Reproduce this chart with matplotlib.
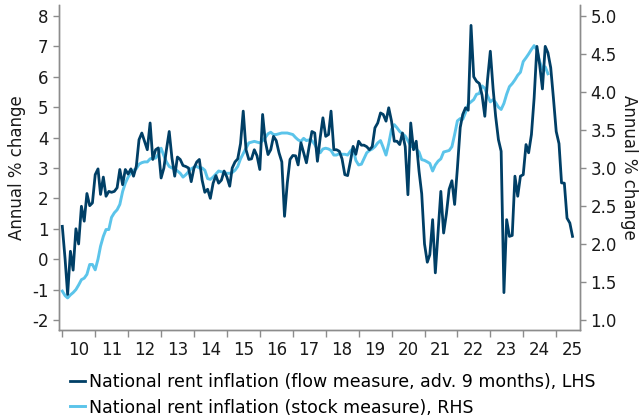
import numpy as np
import pandas as pd
import matplotlib
matplotlib.use('Agg')
import matplotlib.pyplot as plt
import matplotlib.dates as mdates

# flow measure (advanced 9 months), LHS, monthly from Jan 2010
flow = [1.08, 0.0, -1.16, 0.26, -0.36, 1.0, 0.5, 1.74, 1.25, 2.16, 1.76, 1.85,
        2.78, 2.97, 2.13, 2.7, 2.07, 2.23, 2.2, 2.23, 2.35, 2.95, 2.45, 2.95,
        2.8, 2.97, 2.73, 3.06, 3.93, 4.15, 3.88, 3.6, 4.48, 3.28, 3.6, 3.66,
        2.67, 3.0, 3.6, 4.2, 3.33, 2.73, 3.36, 3.28, 3.08, 3.05, 3.0, 2.55,
        3.0, 3.2, 3.28, 2.6, 2.2, 2.3, 2.0, 2.5, 2.75, 2.5, 2.6, 2.9,
        2.7, 2.4, 3.0, 3.2, 3.3, 3.8, 4.87, 3.6, 3.28, 3.3, 3.6, 3.4,
        2.95, 4.76, 3.9, 3.44, 3.6, 4.04, 3.9, 3.5, 3.2, 1.41, 2.51, 3.28,
        3.41, 3.4, 3.1, 3.83, 3.5, 3.17, 3.7, 4.2, 4.15, 3.22, 4.0, 4.65,
        4.04, 4.1, 4.87, 3.6, 3.6, 3.55, 3.3, 2.78, 2.75, 3.2, 3.71, 3.45,
        3.88, 3.75, 3.75, 3.7, 3.6, 3.7, 4.32, 4.48, 4.81, 4.76, 4.54, 4.98,
        4.54, 3.88, 3.88, 3.77, 4.15, 3.7, 2.12, 4.48, 3.6, 3.88, 2.9, 2.15,
        0.5, -0.1, 0.15, 1.3, -0.45, 0.9, 2.23, 0.86, 1.5, 2.3, 2.58, 1.8,
        3.0, 4.33, 4.76, 4.98, 4.9, 7.69, 6.0, 5.85, 5.78, 5.4, 4.7, 5.9,
        6.84, 5.6, 4.7, 3.93, 3.55, -1.1, 1.3, 0.75, 0.78, 2.73, 2.07, 2.73,
        2.78, 3.77, 3.5, 4.1, 5.3, 7.0, 6.4, 5.6, 7.0, 6.79, 6.3, 5.3,
        4.2, 3.8, 2.51, 2.5, 1.35, 1.19, 0.75]

# stock measure, RHS, monthly from Jan 2010
stock = [1.38, 1.32, 1.29, 1.33, 1.36, 1.40, 1.46, 1.53, 1.55, 1.60, 1.73, 1.73,
         1.66, 1.80, 1.97, 2.10, 2.19, 2.19, 2.35, 2.41, 2.45, 2.52, 2.69, 2.80,
         2.88, 2.94, 2.97, 2.99, 3.05, 3.07, 3.08, 3.08, 3.12, 3.13, 3.13, 3.18,
         3.26, 3.16, 3.08, 3.02, 3.00, 2.99, 2.96, 2.93, 2.88, 2.91, 2.95, 2.99,
         3.01, 3.02, 3.00, 3.00, 2.97, 2.86, 2.85, 2.88, 2.92, 2.96, 2.95, 2.94,
         2.93, 2.93, 2.94, 2.97, 3.02, 3.12, 3.19, 3.26, 3.33, 3.34, 3.35, 3.34,
         3.33, 3.36, 3.40, 3.45, 3.47, 3.44, 3.44, 3.45, 3.46, 3.46, 3.46, 3.45,
         3.44, 3.40, 3.37, 3.35, 3.39, 3.36, 3.37, 3.36, 3.31, 3.24, 3.20, 3.25,
         3.26, 3.25, 3.23, 3.17, 3.17, 3.19, 3.18, 3.18, 3.17, 3.22, 3.26, 3.10,
         3.04, 3.05, 3.12, 3.20, 3.23, 3.25, 3.28, 3.33, 3.36, 3.27, 3.17, 3.32,
         3.51, 3.57, 3.53, 3.48, 3.45, 3.42, 3.36, 3.29, 3.27, 3.25, 3.21, 3.11,
         3.10, 3.08, 3.06, 2.96, 3.04, 3.09, 3.12, 3.21, 3.22, 3.23, 3.28, 3.44,
         3.62, 3.65, 3.64, 3.73, 3.84, 3.87, 3.90, 3.97, 3.98, 4.08, 4.05, 3.95,
         3.87, 3.90, 3.86, 3.80, 3.77, 3.85, 3.97, 4.07, 4.11, 4.16, 4.22, 4.26,
         4.40, 4.45, 4.50, 4.56, 4.61, 4.55, 4.40, 4.30, 4.33, 4.24]

flow_label = 'National rent inflation (flow measure, adv. 9 months), LHS'
stock_label = 'National rent inflation (stock measure), RHS'
left_ticks = [-2, -1, 0, 1, 2, 3, 4, 5, 6, 7, 8]
right_ticks = [1.0, 1.5, 2.0, 2.5, 3.0, 3.5, 4.0, 4.5, 5.0]

dark = '#003f66'
light = '#5bc4ea'
grey = '#8c8c8c'

plt.rcParams['font.family'] = 'DejaVu Sans'
plt.rcParams['axes.unicode_minus'] = False

flow_dates = pd.date_range('2010-01-01', periods=len(flow), freq='MS')
stock_dates = pd.date_range('2010-01-01', periods=len(stock), freq='MS')

fig = plt.figure(figsize=(6.41, 4.19), dpi=100)
ax = fig.add_axes([0.092, 0.2124, 0.813, 0.7756])
ax2 = ax.twinx()

l1, = ax.plot(flow_dates, flow, color=dark, lw=2.0, zorder=3)
l2, = ax2.plot(stock_dates, stock, color=light, lw=2.1, zorder=2)
ax.set_zorder(ax2.get_zorder() + 1)
ax.patch.set_visible(False)

ax.set_ylim(-2.33, 8.36)
ax2.set_ylim(0.868, 5.144)
ax.set_yticks(left_ticks)
ax.set_yticklabels([str(t) for t in left_ticks])
ax2.set_yticks(right_ticks)
ax2.set_yticklabels(['%.1f' % t for t in right_ticks])

ax.set_xlim(pd.Timestamp('2009-11-25'), pd.Timestamp('2025-09-23'))
ax.xaxis.set_major_locator(mdates.YearLocator())
ax.xaxis.set_major_formatter(plt.NullFormatter())
ax.xaxis.set_minor_locator(mdates.MonthLocator(bymonth=7))
ax.xaxis.set_minor_formatter(mdates.DateFormatter('%y'))

fs = 12
for a in (ax, ax2):
    a.spines['top'].set_visible(False)
    for s in ('left', 'right', 'bottom'):
        a.spines[s].set_color(grey)
        a.spines[s].set_linewidth(1.0)
    a.tick_params(axis='y', colors=grey, labelcolor='#1a1a1a', length=4, width=1, labelsize=fs)

ax.tick_params(axis='x', which='major', colors=grey, length=5, width=1)
ax.tick_params(axis='x', which='minor', length=0, labelsize=fs, labelcolor='#1a1a1a', pad=8)

ax.set_ylabel('Annual % change', fontsize=fs, color='#1a1a1a', labelpad=4)
ax2.set_ylabel('Annual % change', fontsize=fs, color='#1a1a1a', rotation=270, labelpad=15)

fig.legend([l1, l2], [flow_label, stock_label], loc='lower left',
           bbox_to_anchor=(0.093, -0.019), frameon=False, fontsize=12.5,
           handlelength=0.85, handletextpad=0.25, labelspacing=0.42,
           borderaxespad=0.2)

fig.savefig('out.png', dpi=100)
